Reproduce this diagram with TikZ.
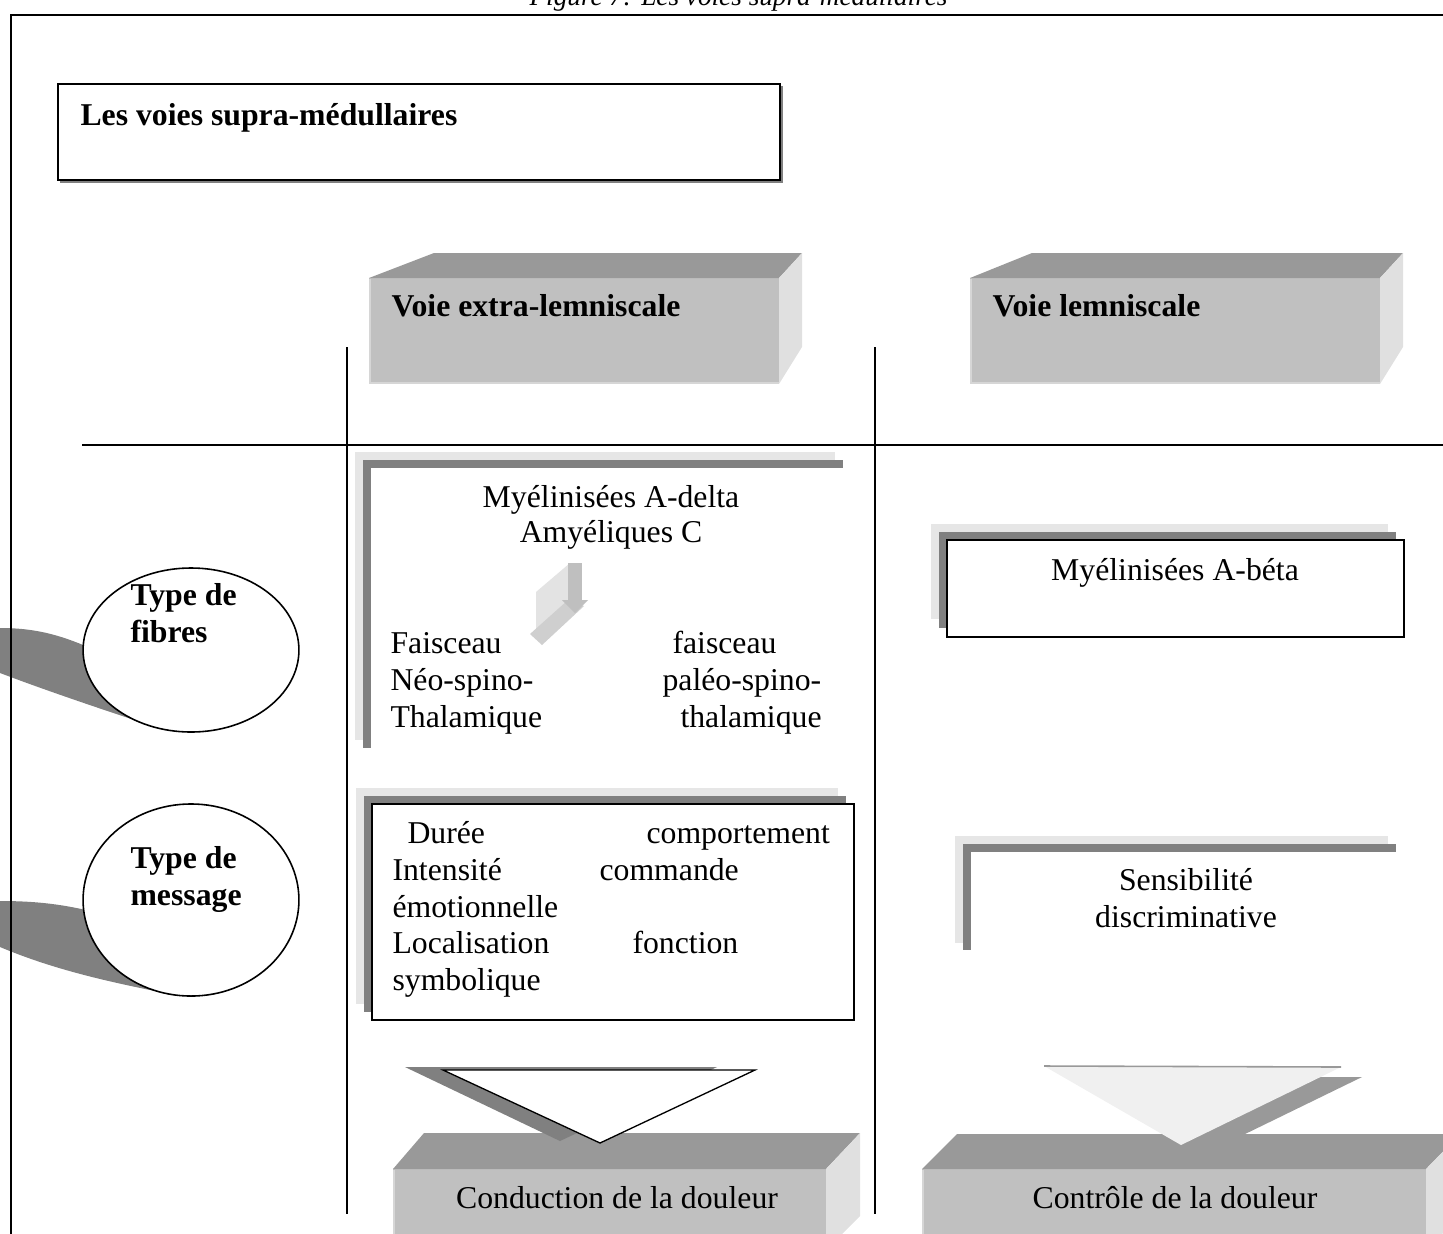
\documentclass[tikz,border=0pt]{standalone}
\usepackage{fontspec}
\setmainfont{Liberation Serif}
\usetikzlibrary{shapes.geometric}
\definecolor{faceFront}{HTML}{C0C0C0}
\definecolor{faceEdge}{HTML}{D6D6D6}
\definecolor{faceTop}{HTML}{999999}
\definecolor{faceSide}{HTML}{E0E0E0}
\definecolor{shadeDark}{HTML}{808080}
\definecolor{shadeLight}{HTML}{E6E6E6}
\definecolor{pale}{HTML}{F0F0F0}
\begin{document}
\begin{tikzpicture}[x=0.378pt,y=-0.378pt,
  txt/.style={inner sep=0pt, font=\fontsize{12}{14}\selectfont},
  hd/.style={inner sep=0pt, font=\bfseries\fontsize{12}{14}\selectfont},
  rule/.style={line width=0.6pt},
  frameline/.style={line width=0.75pt},
  boxline/.style={line width=0.6pt},
  slabedge/.style={faceEdge, line width=0.8pt},
  bubble/.style={ellipse, draw, fill=white, line width=0.6pt, inner sep=0pt, minimum width=81.6pt}
]
\useasboundingbox (0,0) rectangle (1443,1233);

% caption, cut by the page top
\node[anchor=base west, inner sep=0pt, font=\itshape\fontsize{10.3}{12}\selectfont] (caption) at (529,5) {Figure 7: Les voies supra-médullaires};

% tails behind the two bubbles
\fill[shadeDark] (-10,628) -- (0,628) .. controls (40,628) and (65,637) .. (95,650) -- (185,728) -- (160,728.5)
  .. controls (110,712) and (50,692) .. (0,673) -- (-10,668) -- cycle;
\fill[shadeDark] (-10,901) -- (0,901) .. controls (40,901) and (65,905) .. (95,912) -- (185,990) -- (160,992)
  .. controls (100,980) and (50,968) .. (0,947) -- (-10,942) -- cycle;

% outer frame
\draw[frameline] (11,1240) -- (11,15) -- (1450,15);

% title box
\draw[shadeDark, line width=0.6pt] (60,182) -- (782,182) -- (782,86);
\draw[boxline, fill=white] (58,84) rectangle (780,180);
\node[hd, anchor=base west] (title) at (80,125) {Les voies supra-médullaires};

% table rules
\draw[rule] (82,445) -- (1443,445);
\draw[rule] (347,347) -- (347,1214);
\draw[rule] (875,347) -- (875,1214);

% column heads (slabs)
\fill[faceFront] (369,278) rectangle (779,384);
\draw[slabedge] (370,279) -- (370,383) -- (779,383);
\fill[faceTop] (369,278) -- (434,253) -- (802,253) -- (779,278) -- cycle;
\fill[faceSide] (779,278) -- (802,253) -- (802,347) -- (779,384) -- cycle;
\node[hd, anchor=base west] (extra) at (391,316) {Voie extra-lemniscale};

\fill[faceFront] (970,278) rectangle (1380,384);
\draw[slabedge] (971,279) -- (971,383) -- (1380,383);
\fill[faceTop] (970,278) -- (1032,253) -- (1403,253) -- (1380,278) -- cycle;
\fill[faceSide] (1380,278) -- (1403,253) -- (1403,347) -- (1380,384) -- cycle;
\node[hd, anchor=base west] (lemni) at (992,316) {Voie lemniscale};

% row heads
\node[bubble, minimum height=62pt] (fibresBubble) at (191,650) {};
\node[hd, anchor=base west] (fibresA) at (130,605) {Type de};
\node[hd, anchor=base west] (fibresB) at (130,642) {fibres};
\node[bubble, minimum height=72.6pt] (messageBubble) at (191,900) {};
\node[hd, anchor=base west] (messageA) at (130,868) {Type de};
\node[hd, anchor=base west] (messageB) at (130,905) {message};

% fibres, extra-lemniscal
\fill[shadeLight] (355,452) rectangle (835,740);
\fill[shadeDark] (363,460) rectangle (843,748);
\fill[white] (371,468) rectangle (851,756);
\node[txt, anchor=base] (fibDelta) at (611,507) {Myélinisées A-delta};
\node[txt, anchor=base] (fibC) at (611,542) {Amyéliques C};
% bent 3-D arrow
\fill[black!11] (536,592) -- (570,563) -- (570,600) -- (536,633) -- cycle;
\fill[black!19] (530,634) -- (568,600) -- (584,606) -- (542,645) -- cycle;
\fill[black!25] (568,563) rectangle (582,600);
\fill[black!25] (562,600) -- (588,600) -- (575,613) -- cycle;
\node[txt, anchor=base west] (neoA) at (390,653) {Faisceau};
\node[txt, anchor=base west] (neoB) at (390,690) {Néo-spino-};
\node[txt, anchor=base west] (neoC) at (390,727) {Thalamique};
\node[txt, anchor=base west] (paleoA) at (672,653) {faisceau};
\node[txt, anchor=base west] (paleoB) at (662,690) {paléo-spino-};
\node[txt, anchor=base west] (paleoC) at (680,727) {thalamique};

% message, extra-lemniscal
\fill[shadeLight] (356,788) rectangle (838,1004);
\fill[shadeDark] (364,796) rectangle (846,1012);
\draw[boxline, fill=white] (372,804) rectangle (854,1020);
\node[txt, anchor=base west] (msgA) at (407,843) {Durée};
\node[txt, anchor=base west] (msgB) at (646,843) {comportement};
\node[txt, anchor=base west] (msgC) at (392,880) {Intensité};
\node[txt, anchor=base west] (msgD) at (599,880) {commande};
\node[txt, anchor=base west] (msgE) at (392,917) {émotionnelle};
\node[txt, anchor=base west] (msgF) at (392,953) {Localisation};
\node[txt, anchor=base west] (msgG) at (632,953) {fonction};
\node[txt, anchor=base west] (msgH) at (392,990) {symbolique};

% fibres, lemniscal
\fill[shadeLight] (931,524) rectangle (1388,619);
\fill[shadeDark] (939,532) rectangle (1396,628);
\draw[boxline, fill=white] (947,540) rectangle (1404,637);
\node[txt, anchor=base] (fibBeta) at (1175,580) {Myélinisées A-béta};

% message, lemniscal
\fill[shadeLight] (955,836) rectangle (1388,943);
\fill[shadeDark] (963,844) rectangle (1396,950);
\fill[white] (971,852) rectangle (1404,962);
\node[txt, anchor=base] (discA) at (1186,890) {Sensibilité};
\node[txt, anchor=base] (discB) at (1186,927) {discriminative};

% outcome, extra-lemniscal
\fill[faceFront] (393,1169) rectangle (826,1245);
\draw[slabedge] (394,1170) -- (394,1240);
\fill[faceTop] (393,1169) -- (424,1133) -- (860,1133) -- (826,1169) -- cycle;
\fill[faceSide] (826,1169) -- (860,1133) -- (860,1216) -- (826,1250) -- cycle;
\fill[shadeDark] (405,1067) -- (717,1067) -- (560,1141) -- cycle;
\draw[line width=0.5pt, fill=white] (443,1070) -- (755,1070) -- (600,1143) -- cycle;
\node[txt, anchor=base] (conduction) at (617,1208) {Conduction de la douleur};

% outcome, lemniscal
\fill[faceTop] (1065,1077) -- (1362,1077) -- (1202,1155) -- cycle;
\fill[faceFront] (922,1169) rectangle (1426,1245);
\draw[slabedge] (923,1170) -- (923,1240);
\fill[faceTop] (922,1169) -- (957,1134) -- (1460,1134) -- (1426,1169) -- cycle;
\fill[faceSide] (1426,1169) -- (1460,1134) -- (1460,1216) -- (1426,1250) -- cycle;
\fill[pale] (1044,1066) -- (1341,1067) -- (1181,1145) -- cycle;
\draw[black!40, line width=0.6pt] (1044,1066) -- (1341,1067);
\node[txt, anchor=base] (controle) at (1175,1208) {Contrôle de la douleur};
\end{tikzpicture}
\end{document}
